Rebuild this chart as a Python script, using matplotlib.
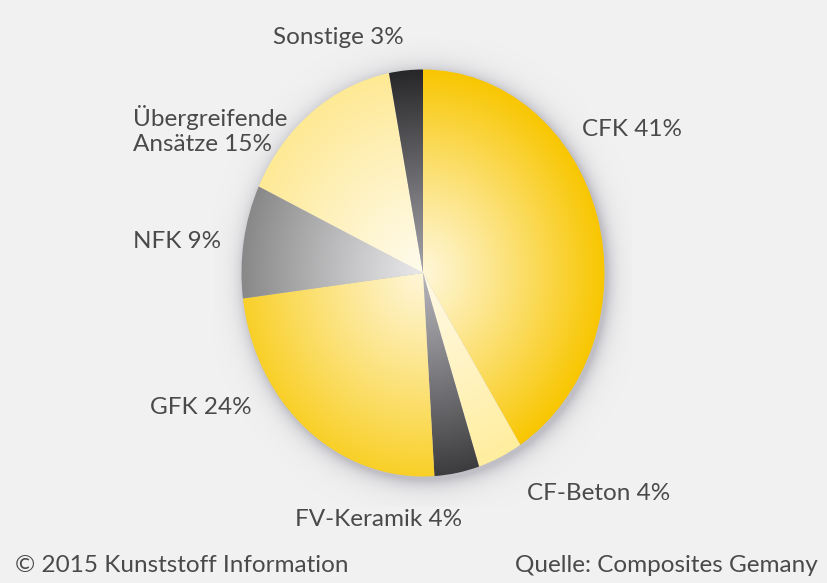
import numpy as np
import matplotlib.pyplot as plt
from matplotlib.colors import to_rgb

labels = ["CFK", "CF-Beton", "FV-Keramik", "GFK", "NFK", "Übergreifende\nAnsätze", "Sonstige"]
shares = [41, 4, 4, 24, 9, 15, 3]

# inner (near centre) and outer (rim) colour of every slice
inner_colors = ["#fff7d8", "#fff9e6", "#b4b4ba", "#fff6d8", "#e8e8ea", "#fffbec", "#a0a0a6"]
outer_colors = ["#f8c600", "#ffee9e", "#3c3c3e", "#f9d028", "#888889", "#fee994", "#262628"]

# label anchor points in pixels (left x, centre y)
label_pos = [(582, 130), (527, 494), (295, 520), (150, 408), (133, 242), (133, 105), (273, 38)]

W, H = 827, 583
BG = "#f1f1f1"

plt.rcParams["font.family"] = ["Lato", "DejaVu Sans"]

fig = plt.figure(figsize=(W / 100, H / 100), dpi=100)
fig.patch.set_facecolor(BG)

# pie sits in an axes sized to the (slightly tall) ellipse of the original
cx, cy, rx, ry = 423, 273, 181.5, 203.5
lim = 1.15
ax = fig.add_axes([(cx - rx * lim) / W, 1 - (cy + ry * lim) / H,
                   2 * rx * lim / W, 2 * ry * lim / H])
ax.set_facecolor("none")

wedges, _ = ax.pie(shares, startangle=90, counterclock=False, radius=1,
                   wedgeprops=dict(linewidth=0))
ax.axis("off")

n = 500
g = np.linspace(-lim, lim, n)
X, Y = np.meshgrid(g, g)

# soft drop shadow around the pie
R = np.hypot(X - 0.015, Y + 0.02)
shade = np.where(R > 1, 0.5 * np.exp(-(R - 1) / 0.045), 0.5)
shadow = np.zeros((n, n, 4))
shadow[..., :3] = to_rgb("#8e8e9a")
shadow[..., 3] = shade
ax.imshow(shadow, extent=(-lim, lim, -lim, lim), origin="lower", zorder=0,
          interpolation="bilinear", aspect="auto")

# radial gradient inside every wedge
Rn = np.clip(np.hypot(X, Y), 0, 1)[..., None]
t = Rn ** 1.1
for w, ci, co in zip(wedges, inner_colors, outer_colors):
    a = np.array(to_rgb(ci))
    b = np.array(to_rgb(co))
    img = a * (1 - t) + b * t
    w.set_facecolor("none")
    im = ax.imshow(img, extent=(-lim, lim, -lim, lim), origin="lower",
                   zorder=2, interpolation="bilinear", aspect="auto")
    im.set_clip_path(w)

ax.set_aspect("auto")
ax.set_xlim(-lim, lim)
ax.set_ylim(-lim, lim)

txt = "#4a4a4a"
fs = 17.5
for lab, val, (px, py) in zip(labels, shares, label_pos):
    fig.text(px / W, 1 - py / H, f"{lab} {val}%", fontsize=fs, color=txt,
             ha="left", va="top" if "\n" in lab else "center",
             linespacing=1.25)

fig.text(15 / W, 1 - 565 / H, "© 2015 Kunststoff Information", fontsize=fs,
         color=txt, ha="left", va="center")
fig.text(818 / W, 1 - 565 / H, "Quelle: Composites Gemany", fontsize=fs,
         color=txt, ha="right", va="center")

fig.savefig("out.png", dpi=100, facecolor=BG)
